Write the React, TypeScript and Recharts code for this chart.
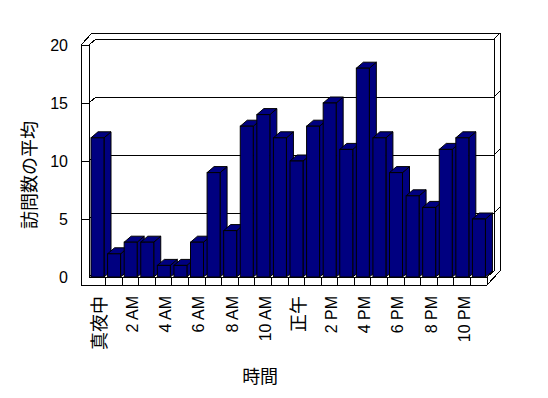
import { Bar, BarChart, Label, ReferenceArea, XAxis, YAxis } from "recharts";

const hours = [
  "真夜中", "1 AM", "2 AM", "3 AM", "4 AM", "5 AM", "6 AM", "7 AM", "8 AM", "9 AM", "10 AM", "11 AM",
  "正午", "1 PM", "2 PM", "3 PM", "4 PM", "5 PM", "6 PM", "7 PM", "8 PM", "9 PM", "10 PM", "11 PM",
];
// only every other hour gets a label on the axis
const tickLabels = [
  "真夜中", "", "2 AM", "", "4 AM", "", "6 AM", "", "8 AM", "", "10 AM", "",
  "正午", "", "2 PM", "", "4 PM", "", "6 PM", "", "8 PM", "", "10 PM", "",
];
const visits = [12, 2, 3, 3, 1, 1, 3, 9, 4, 13, 14, 12, 10, 13, 15, 11, 18, 12, 9, 7, 6, 11, 12, 5];
const yTicks = [0, 5, 10, 15, 20];

const data = hours.map((hour, i) => ({ hour, visits: visits[i] }));

const FONT = '"Liberation Sans", Arial, "Noto Sans CJK JP", sans-serif';
const JP_FONT = '"Noto Sans CJK JP", sans-serif';
const NAVY = "#000080";
// 3D depth of bars / walls
const DX = 7;
const DY = 6;
const WALL = 8; // front slab thickness (left wall, floor)
const BACK = 6; // back wall thickness

const line = (pts: number[][]) => "M" + pts.map((p) => p.join(",")).join(" L");

/** Excel-style 3D box: left wall, back wall with gridlines, floor with category ticks. */
function Box(props: any) {
  const { x, y, width, height } = props;
  const L = x, R = x + width, T = y, B = y + height;
  const yMax = yTicks[yTicks.length - 1];
  const yAt = (v: number) => B - (v / yMax) * height;
  const bw = width / hours.length;
  const paths: string[] = [];
  // outline
  paths.push(
    line([
      [L - WALL, B + WALL], [L - WALL, T], [L + DX - 4, T - DY - BACK],
      [R + DX + BACK, T - DY - BACK], [R + DX + BACK, B - DY], [R, B + WALL],
    ]) + " Z"
  );
  // gridlines across left wall edge and back wall
  yTicks.forEach((v) => {
    const yy = yAt(v);
    if (v === 0) {
      paths.push(line([[L, yy], [L + DX, yy - DY], [R + DX, yy - DY]]));
      return;
    }
    paths.push(
      line([[L - WALL, yy], [L, yy], [L + DX, yy - DY], [R + DX, yy - DY], [R + DX + BACK, yy - DY - BACK]])
    );
  });
  paths.push(line([[L, T], [L, B]]));
  paths.push(line([[R + DX, T - DY], [R + DX, B - DY]]));
  // floor front face
  paths.push(line([[L, B], [R, B], [R + DX, B - DY]]));
  paths.push(line([[R, B], [R, B + WALL]]));
  for (let i = 1; i < hours.length; i++) {
    paths.push(line([[L + i * bw, B], [L + i * bw, B + WALL]]));
  }
  return (
    <g>
      {paths.map((d, i) => (
        <path key={i} d={d} fill="none" stroke="#000" strokeWidth={1} shapeRendering="crispEdges" />
      ))}
    </g>
  );
}

function Bar3D(props: any) {
  const { x, y, width, height } = props;
  if (!height) return <g />;
  const top = `M${x},${y} L${x + DX},${y - DY} L${x + width + DX},${y - DY} L${x + width},${y} Z`;
  const side = `M${x + width},${y} L${x + width + DX},${y - DY} L${x + width + DX},${y + height - DY} L${x + width},${y + height} Z`;
  return (
    <g stroke="#000" strokeWidth={1} fill={NAVY}>
      <path d={side} />
      <path d={top} />
      <rect x={x} y={y} width={width} height={height} />
    </g>
  );
}

function HourTick(props: any) {
  const { x, y, payload } = props;
  const label = tickLabels[payload.index];
  if (!label) return <g />;
  const jp = /[^\x00-\x7F]/.test(label);
  return (
    <text
      transform={`translate(${x + 2},${y + 19}) rotate(-90)`}
      textAnchor="end"
      dy="0.35em"
      fontSize={jp ? 18 : 16}
      fontFamily={jp ? JP_FONT : FONT}
      fill="#000"
    >
      {label}
    </text>
  );
}

export default function App() {
  return (
    <div style={{ position: "absolute", left: 0, top: 0, background: "#fff" }}>
      <BarChart width={548} height={398} data={data} margin={{ top: 45, right: 61, bottom: 61, left: 0 }}>
        <ReferenceArea y1={0} y2={20} shape={<Box />} ifOverflow="visible" />
        <XAxis
          dataKey="hour"
          interval={0}
          height={60}
          axisLine={false}
          tickLine={false}
          tickSize={0}
          tickMargin={0}
          tick={<HourTick />}
        >
          <Label
            content={(p: any) => (
              <text
                x={p.viewBox.x + p.viewBox.width * 0.43}
                y={p.viewBox.y + 98}
                textAnchor="middle"
                dominantBaseline="central"
                fontSize={18}
                fontFamily={JP_FONT}
                fill="#000"
              >
                時間
              </text>
            )}
          />
        </XAxis>
        <YAxis
          type="number"
          domain={[0, 20]}
          ticks={yTicks}
          width={89}
          axisLine={false}
          tickLine={false}
          tickSize={0}
          tickMargin={21}
          tick={{ fontSize: 16, fill: "#000", fontFamily: FONT }}
        >
          <Label
            content={(p: any) => {
              const cx = 28;
              const cy = p.viewBox.y + p.viewBox.height / 2 + 14;
              return (
                <text
                  x={cx}
                  y={cy}
                  transform={`rotate(-90, ${cx}, ${cy})`}
                  textAnchor="middle"
                  dominantBaseline="central"
                  fontSize={18}
                  fontFamily={JP_FONT}
                  fill="#000"
                >
                  訪問数の平均
                </text>
              );
            }}
          />
        </YAxis>
        <Bar dataKey="visits" barSize={13} shape={<Bar3D />} isAnimationActive={false} />
      </BarChart>
    </div>
  );
}
